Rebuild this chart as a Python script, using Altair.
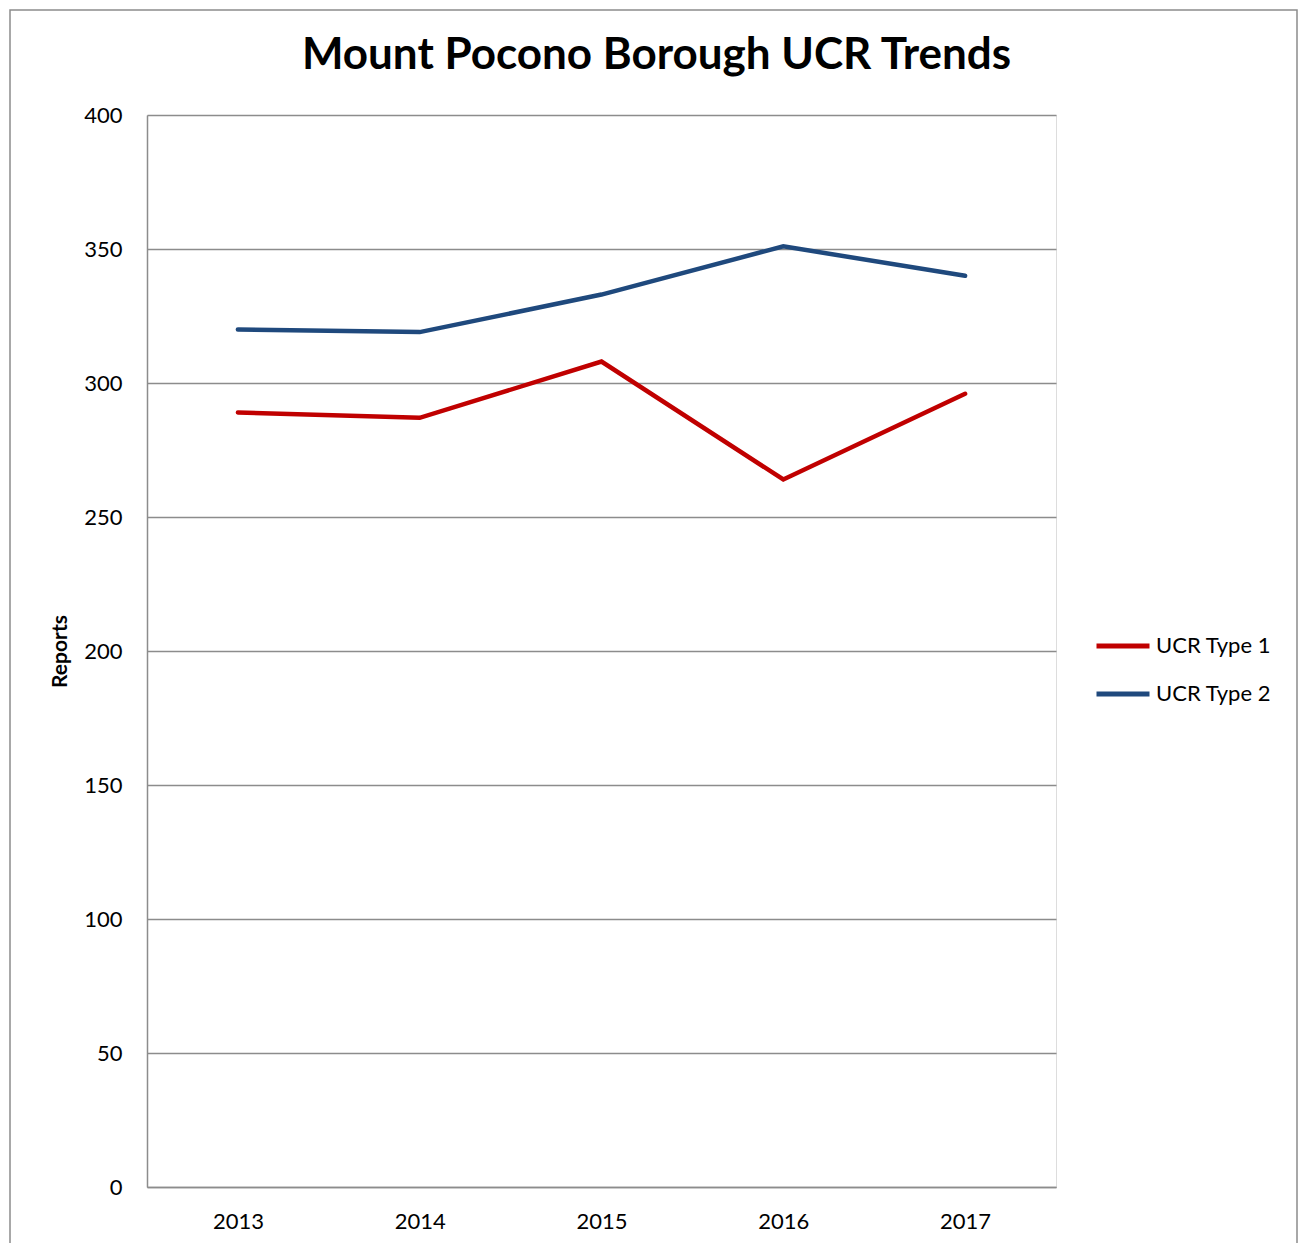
import altair as alt
import pandas as pd

years = ["2013", "2014", "2015", "2016", "2017"]
type1 = [289, 287, 308, 264, 296]
type2 = [320, 319, 333, 351, 340]
series_names = ["UCR Type 1", "UCR Type 2"]
series_colors = ["#C00000", "#1F497D"]

rows = []
for y, v in zip(years, type1):
    rows.append({"Year": y, "Reports": v, "Series": series_names[0]})
for y, v in zip(years, type2):
    rows.append({"Year": y, "Reports": v, "Series": series_names[1]})
df = pd.DataFrame(rows)

FONT = "Lato"
W, H = 909, 1072

lines = alt.Chart(df).mark_line(strokeWidth=4.5, strokeCap="round", strokeJoin="miter").encode(
    x=alt.X("Year:O", scale=alt.Scale(type="point", padding=0.5),
            axis=alt.Axis(title=None, labelAngle=0, ticks=False, domain=True,
                          domainColor="#8c8c8c", domainWidth=1.5,
                          labelFontSize=22, labelFont=FONT, labelColor="#000000",
                          labelPadding=24, grid=False)),
    y=alt.Y("Reports:Q", scale=alt.Scale(domain=[0, 400], nice=False),
            axis=alt.Axis(title="Reports", values=[0, 50, 100, 150, 200, 250, 300, 350, 400],
                          ticks=False, domain=True, domainColor="#8c8c8c", domainWidth=1.5,
                          grid=True, gridColor="#8c8c8c", gridWidth=1.5,
                          labelFontSize=22, labelFont=FONT, labelColor="#000000",
                          labelPadding=25, titleFontSize=21, titleFont=FONT,
                          titleFontWeight="bold", titleColor="#000000", titlePadding=13)),
    color=alt.Color("Series:N", scale=alt.Scale(domain=series_names, range=series_colors),
                    legend=alt.Legend(title=None, orient="none", legendX=947, legendY=502,
                                      symbolType="stroke", symbolSize=2809, symbolStrokeWidth=5,
                                      labelFontSize=22, labelFont=FONT, labelColor="#000000",
                                      labelLimit=300, rowPadding=8, labelOffset=4)),
)

frame = alt.Chart(pd.DataFrame({"k": [0]})).mark_rect(
    fill=None, stroke="#8c8c8c", strokeWidth=1.5, clip=False
).encode(
    x=alt.value(-137), x2=alt.value(1150), y=alt.value(-105), y2=alt.value(1140)
)

chart = alt.layer(frame, lines).properties(
    width=W, height=H,
    title=alt.Title("Mount Pocono Borough UCR Trends", fontSize=44, font=FONT,
                    fontWeight="bold", color="#000000", anchor="middle", dx=55,
                    offset=0, dy=104, baseline="alphabetic", frame="group"),
    autosize=alt.AutoSizeParams(type="none"),
    padding={"left": 139, "top": 107, "right": 243, "bottom": 56},
).configure_view(stroke=None).configure(background="white")

chart.save("out.html", embed_options={"renderer": "svg", "actions": False})
